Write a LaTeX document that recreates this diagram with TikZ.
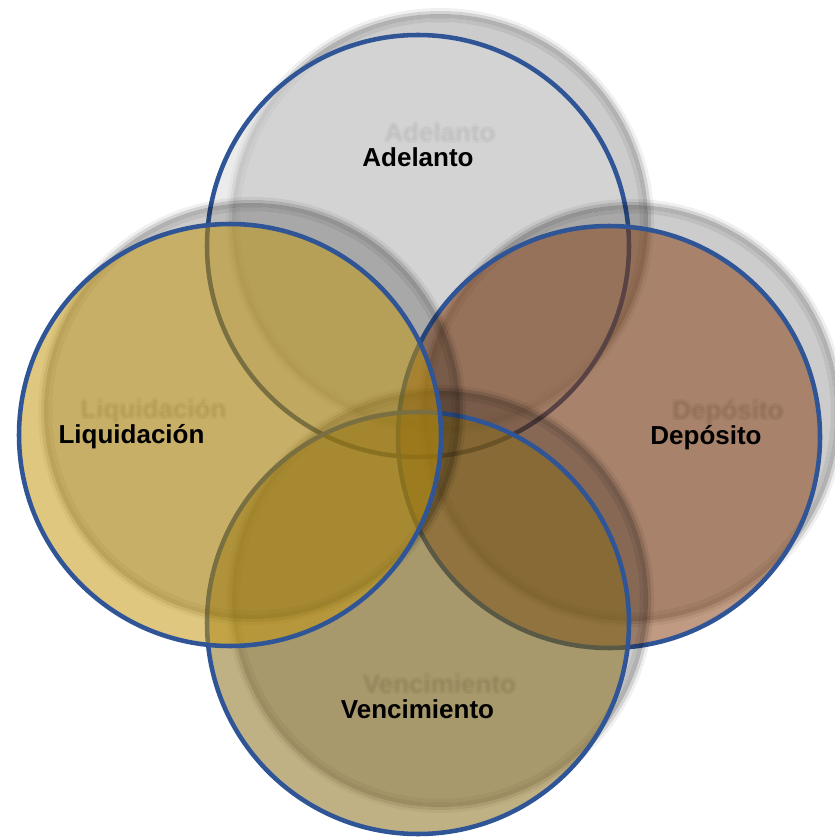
\documentclass[tikz,border=0pt]{standalone}
\usepackage{fontspec}
\setmainfont{Liberation Sans}
\usetikzlibrary{calc}
\definecolor{vblue}{RGB}{47,85,151}
\definecolor{ctop}{RGB}{219,219,219}
\definecolor{cleft}{RGB}{196,151,15}
\definecolor{cright}{RGB}{136,66,21}
\definecolor{cbot}{RGB}{136,109,26}
\tikzset{
  ghostfill/.style={fill=black, opacity=0.2},
  ghostring/.style={draw=black, opacity=#1},
  mainfill/.style={fill=#1, fill opacity=0.53},
  rim/.style={draw=vblue, line width=3.4pt},
  lbl/.style={font=\bfseries\fontsize{19.5pt}{22pt}\selectfont, anchor=base, inner sep=0pt},
  ghostlbl/.style={lbl, text=black, opacity=0.045},
}
% soft shadow disk centred at #1
\newcommand\vghost[1]{%
  \fill[ghostfill] (#1) circle (200);
  \draw[ghostring=0.25, line width=3pt] (#1) circle (202);
  \draw[ghostring=0.30, line width=3pt] (#1) circle (206);
  \draw[ghostring=0.17, line width=2.25pt] (#1) circle (209.5);
  \draw[ghostring=0.06, line width=2.25pt] (#1) circle (212.5);
}
% blurred ghost text: name, position, text
\newcommand\vghosttext[3]{%
  \node[ghostlbl] (#1) at (#2) {#3};
  \node[ghostlbl] at ($(#2)+(1.5,1.5)$) {#3};
  \node[ghostlbl] at ($(#2)+(-1.5,1.5)$) {#3};
  \node[ghostlbl] at ($(#2)+(1.5,-1.5)$) {#3};
  \node[ghostlbl] at ($(#2)+(-1.5,-1.5)$) {#3};
}
\begin{document}
\begin{tikzpicture}[x=0.75pt,y=0.75pt]
\useasboundingbox (0,0) rectangle (834,-837);
\fill[white] (0,0) rectangle (834,-837);
% --- Adelanto (top)
\vghost{440,-222}
\vghosttext{adelantoG}{440,-142}{Adelanto}
\fill[mainfill=ctop] (418,-246) circle (211);
\draw[rim] (418,-246) circle (211);
% --- Deposito (right)
\vghost{631,-413}
\vghosttext{depositoG}{728,-419}{Depósito}
\fill[mainfill=cright] (609,-437) circle (211);
\draw[rim] (609,-437) circle (211);
% --- Vencimiento (bottom)
\vghost{440,-599}
\vghosttext{vencimientoG}{439.5,-693}{Vencimiento}
\fill[mainfill=cbot] (418,-623) circle (211);
\draw[rim] (418,-623) circle (211);
% --- Liquidacion (left)
\vghost{252,-411}
\vghosttext{liquidacionG}{153.5,-418}{Liquidación}
\fill[mainfill=cleft] (230,-435) circle (211);
\draw[rim] (230,-435) circle (211);
% --- labels
\node[lbl] (adelanto) at (418,-167) {Adelanto};
\node[lbl] (deposito) at (706,-444) {Depósito};
\node[lbl] (vencimiento) at (417.5,-718) {Vencimiento};
\node[lbl] (liquidacion) at (131.5,-443) {Liquidación};
\end{tikzpicture}
\end{document}
